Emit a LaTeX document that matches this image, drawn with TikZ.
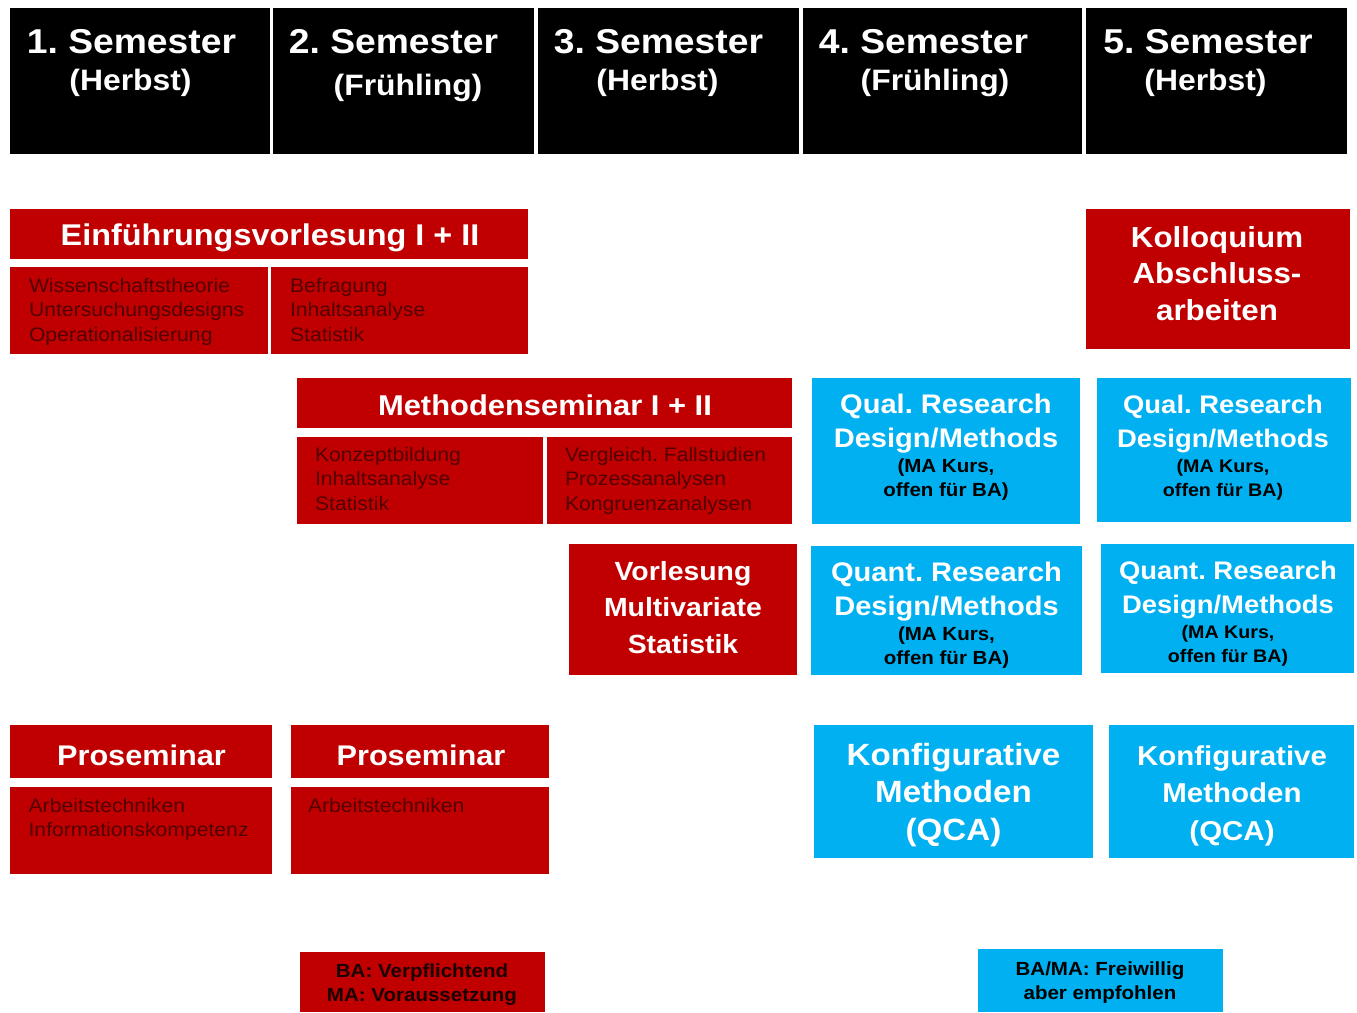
\documentclass[tikz,border=0pt]{standalone}
\usepackage{fontspec}
\setmainfont{Liberation Sans}[FakeStretch=1.08]
\frenchspacing
\newcommand\fsz[1]{\fontsize{#1}{#1}\selectfont}
\definecolor{myred}{HTML}{C00000}
\definecolor{myblue}{HTML}{00B0F0}
\definecolor{subred}{HTML}{520000}
\definecolor{legdark}{HTML}{1A0000}
\newcommand\bx[6]{\node[#1, anchor=north west, minimum width={(#5)-(#3)}, minimum height={(#6)-(#4)}] (#2) at (#3,#4) {};}
\tikzset{
  boxbase/.style={inner sep=0pt, outer sep=0pt, draw=none},
  hdrbox/.style={boxbase, fill=black},
  redbox/.style={boxbase, fill=myred},
  bluebox/.style={boxbase, fill=myblue},
  txt/.style={inner sep=0pt, outer sep=0pt, anchor=base},
  hdrA/.style={txt, text=white, font=\bfseries\fsz{34.5}},
  hdrB/.style={txt, text=white, font=\bfseries\fsz{29.5}},
  redtitle/.style={txt, text=white, font=\bfseries\fsz{30}},
  redtitleB/.style={txt, text=white, font=\bfseries\fsz{28.6}},
  subtxt/.style={txt, anchor=base west, text=subred, font=\fsz{19.6}},
  bigw/.style={txt, text=white, font=\bfseries\fsz{#1}},
  smallk/.style={txt, text=black, font=\bfseries\fsz{#1}},
  legtxt/.style={txt, text=#1, font=\bfseries\fsz{19}},
}
\begin{document}
\begin{tikzpicture}[x=1pt,y=-1pt]
\useasboundingbox (0,0) rectangle (1357,1012);
% header
\bx{hdrbox}{h1}{10}{8}{270}{154}
\bx{hdrbox}{h2}{273}{8}{534}{154}
\bx{hdrbox}{h3}{538}{8}{799}{154}
\bx{hdrbox}{h4}{803}{8}{1082}{154}
\bx{hdrbox}{h5}{1086}{8}{1347}{154}
\node[hdrA] (h1a) at (131.5,53) {1. Semester};
\node[hdrB] (h1b) at (130.5,90) {(Herbst)};
\node[hdrA] (h2a) at (393.5,53) {2. Semester};
\node[hdrB] (h2b) at (408,95) {(Frühling)};
\node[hdrA] (h3a) at (658.5,53) {3. Semester};
\node[hdrB] (h3b) at (657.5,90) {(Herbst)};
\node[hdrA] (h4a) at (923.5,53) {4. Semester};
\node[hdrB] (h4b) at (935,90) {(Frühling)};
\node[hdrA] (h5a) at (1208,53) {5. Semester};
\node[hdrB] (h5b) at (1205.5,90) {(Herbst)};
% Einfuehrungsvorlesung
\bx{redbox}{ev}{10}{209}{528}{259}
\node[redtitle] (evt) at (270,245.5) {Einführungsvorlesung I + II};
\bx{redbox}{evL}{10}{267}{268}{354}
\bx{redbox}{evR}{271}{267}{528}{354}
\node[subtxt] (evL1) at (29,292.5) {Wissenschaftstheorie};
\node[subtxt] (evL2) at (29,316.8) {Untersuchungsdesigns};
\node[subtxt] (evL3) at (29,341.1) {Operationalisierung};
\node[subtxt] (evR1) at (290,292.5) {Befragung};
\node[subtxt] (evR2) at (290,316.8) {Inhaltsanalyse};
\node[subtxt] (evR3) at (290,341.1) {Statistik};
% Methodenseminar
\bx{redbox}{ms}{297}{378}{792}{428}
\node[redtitleB] (mst) at (545,415) {Methodenseminar I + II};
\bx{redbox}{msL}{297}{437}{543}{524}
\bx{redbox}{msR}{547}{437}{792}{524}
\node[subtxt] (msL1) at (315,461.5) {Konzeptbildung};
\node[subtxt] (msL2) at (315,485.8) {Inhaltsanalyse};
\node[subtxt] (msL3) at (315,510.1) {Statistik};
\node[subtxt] (msR1) at (565,461.5) {Vergleich. Fallstudien};
\node[subtxt] (msR2) at (565,485.8) {Prozessanalysen};
\node[subtxt] (msR3) at (565,510.1) {Kongruenzanalysen};
% Vorlesung Multivariate Statistik
\bx{redbox}{vl}{569}{544}{797}{675}
\node[bigw=26.3] (vl1) at (683,580) {Vorlesung};
\node[bigw=26.3] (vl2) at (683,616.5) {Multivariate};
\node[bigw=26.3] (vl3) at (683,653) {Statistik};
% Kolloquium
\bx{redbox}{ko}{1086}{209}{1350}{349}
\node[bigw=29] (ko1) at (1217,247) {Kolloquium};
\node[bigw=29] (ko2) at (1217,283.5) {Abschluss-};
\node[bigw=29] (ko3) at (1217,320) {arbeiten};
% Proseminare
\bx{redbox}{ps1}{10}{725}{272}{778}
\node[bigw=28.4] (ps1t) at (141.5,765) {Proseminar};
\bx{redbox}{ps1s}{10}{787}{272}{874}
\node[subtxt] (ps1a) at (28.6,812) {Arbeitstechniken};
\node[subtxt] (ps1b) at (28.6,836.5) {Informationskompetenz};
\bx{redbox}{ps2}{291}{725}{549}{778}
\node[bigw=28.4] (ps2t) at (421,765) {Proseminar};
\bx{redbox}{ps2s}{291}{787}{549}{874}
\node[subtxt] (ps2a) at (308,812) {Arbeitstechniken};
% Qual
\bx{bluebox}{qa}{812}{378}{1080}{524}
\node[bigw=26.9] (qa1) at (946,413) {Qual. Research};
\node[bigw=26.9] (qa2) at (946,447.5) {Design/Methods};
\node[smallk=19] (qa3) at (946,472.5) {(MA Kurs,};
\node[smallk=19] (qa4) at (946,496) {offen für BA)};
\bx{bluebox}{qb}{1097}{378}{1351}{522}
\node[bigw=25.4] (qb1) at (1223,413) {Qual. Research};
\node[bigw=25.4] (qb2) at (1223,447.5) {Design/Methods};
\node[smallk=18.2] (qb3) at (1223,472.5) {(MA Kurs,};
\node[smallk=18.2] (qb4) at (1223,496) {offen für BA)};
% Quant
\bx{bluebox}{qc}{811}{546}{1082}{675}
\node[bigw=26.9] (qc1) at (946.5,581.5) {Quant. Research};
\node[bigw=26.9] (qc2) at (946.5,615.5) {Design/Methods};
\node[smallk=19] (qc3) at (946.5,640.7) {(MA Kurs,};
\node[smallk=19] (qc4) at (946.5,664.7) {offen für BA)};
\bx{bluebox}{qd}{1101}{544}{1354}{673}
\node[bigw=25.4] (qd1) at (1228,579.5) {Quant. Research};
\node[bigw=25.4] (qd2) at (1228,613.5) {Design/Methods};
\node[smallk=18.2] (qd3) at (1228,638.7) {(MA Kurs,};
\node[smallk=18.2] (qd4) at (1228,662.7) {offen für BA)};
% Konfigurative
\bx{bluebox}{ke}{814}{725}{1093}{858}
\node[bigw=30.7] (ke1) at (953.5,765) {Konfigurative};
\node[bigw=30.7] (ke2) at (953.5,802.5) {Methoden};
\node[bigw=30.7] (ke3) at (953.5,840) {(QCA)};
\bx{bluebox}{kf}{1109}{725}{1354}{858}
\node[bigw=27.3] (kf1) at (1232,765) {Konfigurative};
\node[bigw=27.3] (kf2) at (1232,802.5) {Methoden};
\node[bigw=27.3] (kf3) at (1232,840) {(QCA)};
% legend
\bx{redbox}{lr}{299.5}{952}{544.5}{1012}
\node[legtxt=legdark] (lr1) at (422,977.5) {BA: Verpflichtend};
\node[legtxt=legdark] (lr2) at (422,1001.5) {MA: Voraussetzung};
\bx{bluebox}{lb}{978}{949}{1223}{1012}
\node[legtxt=black] (lb1) at (1100,975.5) {BA/MA: Freiwillig};
\node[legtxt=black] (lb2) at (1100,999.5) {aber empfohlen};
\end{tikzpicture}
\end{document}
